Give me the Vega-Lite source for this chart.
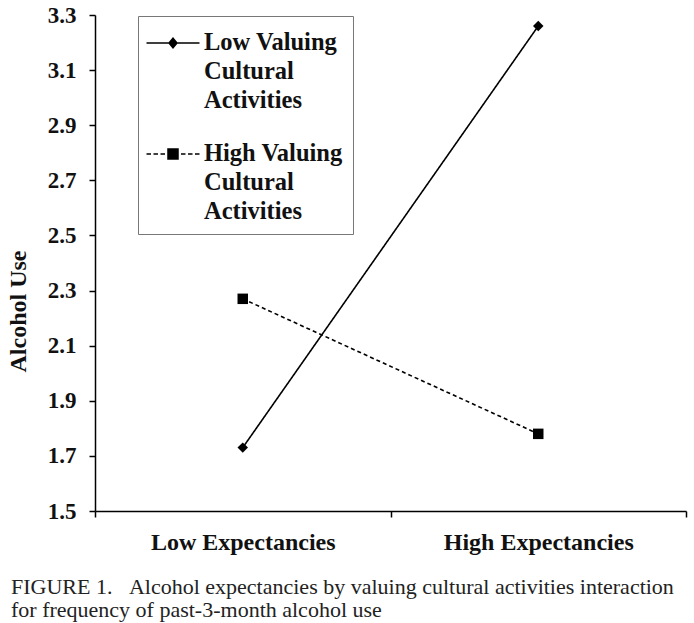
{
  "$schema": "https://vega.github.io/schema/vega-lite/v6.json",
  "width": 591,
  "height": 496,
  "autosize": {"type": "none"},
  "padding": {"left": 95, "top": 15, "right": 8, "bottom": 112},
  "background": "white",
  "title": {
    "text": ["FIGURE 1.\u00a0\u00a0\u00a0Alcohol expectancies by valuing cultural activities interaction", "for frequency of past-3-month alcohol use"],
    "orient": "bottom",
    "anchor": "start",
    "frame": "group",
    "dx": -84,
    "offset": 23,
    "fontSize": 22,
    "fontWeight": "normal",
    "font": "Liberation Serif",
    "color": "#222",
    "lineHeight": 23
  },
  "data": {
    "values": [
      {"expectancies": "Low Expectancies", "series": "Low Valuing Cultural Activities", "alcohol": 1.73},
      {"expectancies": "High Expectancies", "series": "Low Valuing Cultural Activities", "alcohol": 3.26},
      {"expectancies": "Low Expectancies", "series": "High Valuing Cultural Activities", "alcohol": 2.27},
      {"expectancies": "High Expectancies", "series": "High Valuing Cultural Activities", "alcohol": 1.78}
    ]
  },
  "encoding": {
    "x": {
      "field": "expectancies",
      "type": "nominal",
      "sort": ["Low Expectancies", "High Expectancies"],
      "scale": {"paddingInner": 0, "paddingOuter": 0},
      "axis": {
        "title": null,
        "labelAngle": 0,
        "labelFont": "Liberation Serif",
        "labelFontSize": 24,
        "labelFontWeight": "bold",
        "labelColor": "#111",
        "labelPadding": 13,
        "labelLimit": 400,
        "tickBand": "extent",
        "tickSize": 6,
        "domainColor": "black",
        "tickColor": "black",
        "domainWidth": 1.5,
        "tickWidth": 1.5
      }
    },
    "y": {
      "field": "alcohol",
      "type": "quantitative",
      "scale": {"domain": [1.5, 3.3], "nice": false, "zero": false},
      "axis": {
        "values": [1.5, 1.7, 1.9, 2.1, 2.3, 2.5, 2.7, 2.9, 3.1, 3.3],
        "format": ".1f",
        "grid": false,
        "title": "Alcohol Use",
        "titleFont": "Liberation Serif",
        "titleFontSize": 24,
        "titleFontWeight": "bold",
        "titleColor": "#111",
        "titleBaseline": "alphabetic",
        "titleX": -70,
        "titleY": 296,
        "labelFont": "Liberation Serif",
        "labelFontSize": 23,
        "labelFontWeight": "bold",
        "labelColor": "#111",
        "labelPadding": 13,
        "tickSize": 6,
        "domainColor": "black",
        "tickColor": "black",
        "domainWidth": 1.5,
        "tickWidth": 1.5
      }
    }
  },
  "layer": [
    {
      "mark": {"type": "line", "color": "black", "strokeWidth": 1.6},
      "encoding": {
        "strokeDash": {
          "field": "series",
          "type": "nominal",
          "sort": ["Low Valuing Cultural Activities", "High Valuing Cultural Activities"],
          "scale": {"range": [[1, 0], [4, 3]]},
          "legend": null
        }
      }
    },
    {
      "mark": {"type": "point", "filled": true, "color": "black", "size": 110, "opacity": 1},
      "encoding": {
        "shape": {
          "field": "series",
          "type": "nominal",
          "sort": ["Low Valuing Cultural Activities", "High Valuing Cultural Activities"],
          "scale": {"range": ["diamond", "square"]},
          "legend": null
        }
      }
    },
    {
      "mark": {"type": "point", "filled": true, "color": "black", "opacity": 0},
      "encoding": {
        "shape": {
          "field": "series",
          "type": "nominal",
          "scale": {
            "domain": ["Low Valuing Cultural Activities", "High Valuing Cultural Activities"],
            "range": [
              "M-1.656,-0.05H1.656V0.05H-1.656ZM0,-0.37L0.31,0L0,0.37L-0.31,0Z",
              "M-1.656,-0.05H-1.375V0.05H-1.656ZM-1.219,-0.05H-0.938V0.05H-1.219ZM-0.781,-0.05H-0.5V0.05H-0.781ZM-0.36,-0.36H0.36V0.36H-0.36ZM0.5,-0.05H0.781V0.05H0.5ZM0.938,-0.05H1.219V0.05H0.938ZM1.375,-0.05H1.656V0.05H1.375Z"
            ]
          },
          "legend": {
            "title": null,
            "labelExpr": "datum.value == 'Low Valuing Cultural Activities' ? ['Low Valuing', 'Cultural', 'Activities'] : ['High Valuing', 'Cultural', 'Activities']"
          }
        }
      }
    }
  ],
  "resolve": {"scale": {"shape": "independent"}},
  "config": {
    "view": {"stroke": null},
    "font": "Liberation Serif",
    "style": {"guide-label": {"lineHeight": 29}},
    "legend": {
      "orient": "none",
      "legendX": 43,
      "legendY": 1,
      "strokeColor": "#777",
      "fillColor": "white",
      "padding": 10,
      "rowPadding": 24,
      "symbolSize": 1024,
      "symbolOffset": 8,
      "symbolOpacity": 1,
      "labelFont": "Liberation Serif",
      "labelFontSize": 24.5,
      "labelFontWeight": "bold",
      "labelColor": "#111",
      "labelOffset": 14,
      "labelLimit": 300
    }
  }
}
